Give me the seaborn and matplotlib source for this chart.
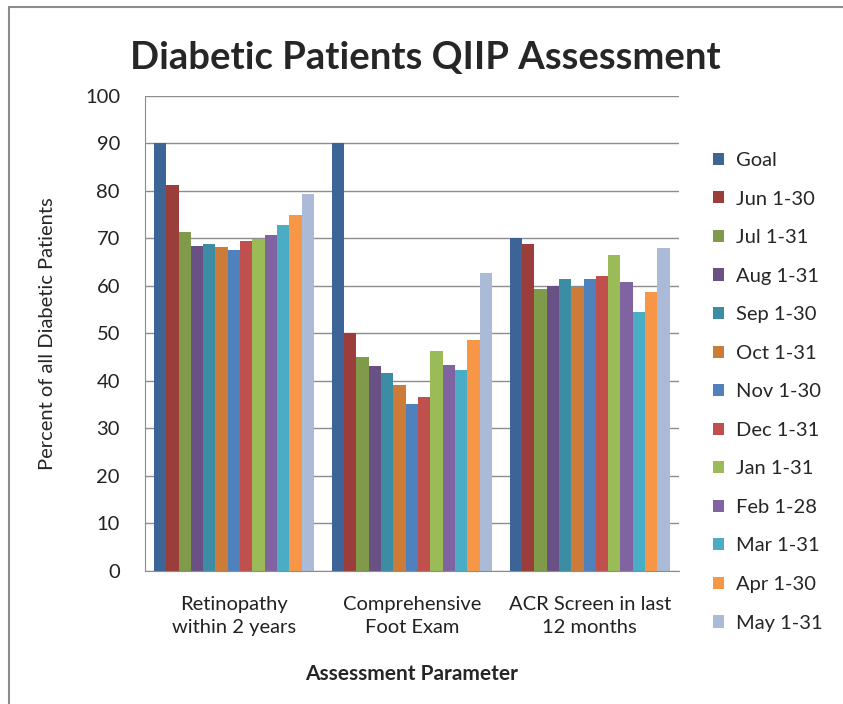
import pandas as pd
import matplotlib.pyplot as plt
import seaborn as sns

categories = ['Retinopathy\nwithin 2 years', 'Comprehensive\nFoot Exam', 'ACR Screen in last\n12 months']
series = ['Goal', 'Jun 1-30', 'Jul 1-31', 'Aug 1-31', 'Sep 1-30', 'Oct 1-31', 'Nov 1-30',
          'Dec 1-31', 'Jan 1-31', 'Feb 1-28', 'Mar 1-31', 'Apr 1-30', 'May 1-31']
retinopathy = [90, 81.3, 71.3, 68.3, 68.7, 68.1, 67.6, 69.5, 69.8, 70.6, 72.7, 74.9, 79.4]
foot_exam = [90, 50.1, 45.1, 43.2, 41.7, 39.1, 35.2, 36.7, 46.2, 43.4, 42.3, 48.7, 62.7]
acr_screen = [70, 68.7, 59.3, 60.0, 61.4, 59.7, 61.4, 62.0, 66.5, 60.7, 54.4, 58.6, 67.9]
colors = ['#3C6496', '#9B3D3B', '#7F9A48', '#695185', '#3C8DA3', '#CC7B38', '#4F81BD',
          '#C0504D', '#9BBB59', '#8064A2', '#4BACC6', '#F79646', '#AABAD7']

rows = []
for cat, vals in zip(categories, [retinopathy, foot_exam, acr_screen]):
    for s, v in zip(series, vals):
        rows.append({'Category': cat, 'Series': s, 'Value': v})
df = pd.DataFrame(rows)

sns.set_style('white')
plt.rcParams['font.family'] = ['Lato', 'DejaVu Sans']

fig = plt.figure(figsize=(8.43, 7.04), dpi=100)
ax = fig.add_axes([0.172, 0.189, 0.633, 0.675])

sns.barplot(data=df, x='Category', y='Value', hue='Series', order=categories,
            hue_order=series, palette=colors, width=0.9, linewidth=0, saturation=1, ax=ax)

ax.set_ylim(0, 100)
ax.set_xlim(-0.5, 2.5)
ax.set_yticks(range(0, 101, 10))
ax.yaxis.grid(True, color='#8c8c8c', linewidth=1)
ax.set_axisbelow(True)
for side in ['top', 'right']:
    ax.spines[side].set_visible(False)
for side in ['left', 'bottom']:
    ax.spines[side].set_color('#8c8c8c')
ax.tick_params(axis='y', length=6, color='#8c8c8c', labelsize=14.5, labelcolor='#222222', pad=12)
ax.tick_params(axis='x', which='major', length=0, labelsize=14.5, labelcolor='#222222', pad=18)
for lbl in ax.get_xticklabels():
    lbl.set_linespacing(1.45)
ax.set_xticks([-0.5, 0.5, 1.5, 2.5], minor=True)
ax.tick_params(axis='x', which='minor', length=7, color='#8c8c8c')

ax.set_ylabel('Percent of all Diabetic Patients', fontsize=14.5, labelpad=21)
ax.set_xlabel('Assessment Parameter', fontsize=15, fontweight='bold', labelpad=20)
fig.text(0.505, 0.918, 'Diabetic Patients QIIP Assessment', ha='center', va='center',
         fontsize=27.5, fontweight='bold')

ax.legend(loc='center left', bbox_to_anchor=(1.03, 0.377), frameon=False, fontsize=14.5,
          handlelength=0.55, handleheight=0.55, handletextpad=0.6, labelspacing=1.07)

fig.add_artist(plt.Line2D([0.011, 0.011], [0, 0.99], color='#8c8c8c', linewidth=1.5))
fig.add_artist(plt.Line2D([0.011, 1], [0.99, 0.99], color='#8c8c8c', linewidth=1.5))

fig.savefig('out.png', dpi=100)
